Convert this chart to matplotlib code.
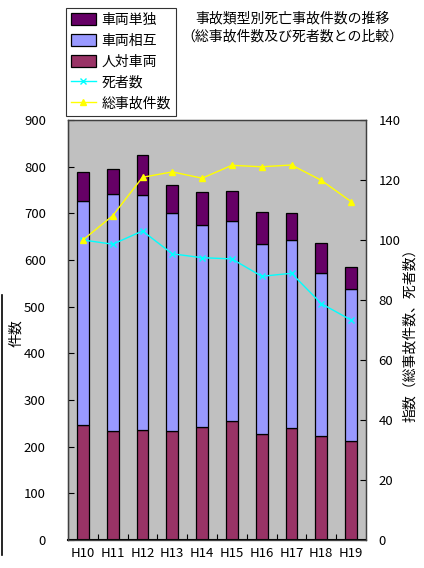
import matplotlib
matplotlib.use("Agg")
import matplotlib.pyplot as plt
from matplotlib.lines import Line2D
import numpy as np

plt.rcParams['font.family'] = ['Noto Sans CJK JP', 'DejaVu Sans']

categories = ["H10", "H11", "H12", "H13", "H14", "H15", "H16", "H17", "H18", "H19"]
jintai = [247, 233, 236, 233, 242, 254, 227, 240, 222, 213]          # 人対車両
sougo = [480, 509, 504, 468, 433, 430, 408, 403, 351, 324]           # 車両相互
tandoku = [61, 54, 84, 59, 71, 64, 67, 57, 63, 49]                   # 車両単独
shisha = [100, 98.6, 103, 95.4, 94.1, 93.7, 87.9, 88.9, 78.8, 73.3]  # 死者数 index
jiko = [100, 108.1, 120.9, 122.7, 120.6, 124.9, 124.4, 125, 119.9, 112.8]  # 総事故件数 index

W, H = 424, 568
fig = plt.figure(figsize=(W / 100, H / 100), dpi=100)
ax = fig.add_axes([68 / W, 1 - 540 / H, (366 - 68) / W, (540 - 120) / H])
ax.set_facecolor("#C0C0C0")

x = np.arange(len(categories))
bw = 0.4
b1 = ax.bar(x, jintai, bw, color="#993366", edgecolor="black", linewidth=0.9, label="人対車両")
bottom2 = np.array(jintai)
b2 = ax.bar(x, sougo, bw, bottom=bottom2, color="#9999FF", edgecolor="black", linewidth=0.9, label="車両相互")
bottom3 = bottom2 + np.array(sougo)
b3 = ax.bar(x, tandoku, bw, bottom=bottom3, color="#660066", edgecolor="black", linewidth=0.9, label="車両単独")

ax.set_xlim(-0.5, len(categories) - 0.5)
ax.set_ylim(0, 900)
ax.set_yticks(range(0, 901, 100))
ax.set_xticks(x)
ax.set_xticklabels(categories)
ax.set_xticks(np.arange(0.5, len(categories) - 0.5, 1), minor=True)
ax.tick_params(axis='x', which='major', length=0, labelsize=9.5, pad=5)
ax.tick_params(axis='x', which='minor', direction='in', length=4, width=0.8)
ax.tick_params(axis='y', direction='in', length=4, width=0.8, labelsize=9.5, pad=16)
for s in ax.spines.values():
    s.set_color("#404040")
    s.set_linewidth(0.9)
ax.spines['left'].set_color("black")
ax.spines['bottom'].set_color("black")
ax.spines['bottom'].set_linewidth(1.5)

ax2 = ax.twinx()
ax2.set_ylim(0, 140)
ax2.set_yticks(range(0, 141, 20))
ax2.tick_params(axis='y', direction='in', length=4, width=0.8, labelsize=9.5, pad=9)
l1, = ax2.plot(x, shisha, color="#00FFFF", marker="x", markersize=5, linewidth=1.0, label="死者数")
l2, = ax2.plot(x, jiko, color="#FFFF00", marker="^", markersize=5, linewidth=1.0, label="総事故件数")
for s in ax2.spines.values():
    s.set_color("#404040")
    s.set_linewidth(0.9)

fig.text(16 / W, 1 - 333 / H, "件数", rotation=90, ha="center", va="center", fontsize=10)
fig.text(410 / W, 1 - 332 / H, "指数（総事故件数、死者数）", rotation=90, ha="center", va="center", fontsize=10)
fig.text(292 / W, 1 - 18 / H, "事故類型別死亡事故件数の推移", ha="center", va="center", fontsize=10)
fig.text(292 / W, 1 - 36 / H, "（総事故件数及び死者数との比較）", ha="center", va="center", fontsize=10)

fig.add_artist(Line2D([1.5 / W, 1.5 / W], [1 - 295 / H, 1 - 555 / H], color="black", linewidth=1.2))

handles = [b3, b2, b1, l1, l2]
labels = ["車両単独", "車両相互", "人対車両", "死者数", "総事故件数"]
leg = fig.legend(handles, labels, loc="upper left", bbox_to_anchor=(66 / W, 1 - 8 / H),
                 frameon=True, fancybox=False, edgecolor="black", fontsize=10,
                 handlelength=1.8, handleheight=0.9, handletextpad=0.4,
                 labelspacing=0.5, borderpad=0.35, borderaxespad=0)
leg.get_frame().set_linewidth(0.8)

fig.savefig("out.png", dpi=100)
